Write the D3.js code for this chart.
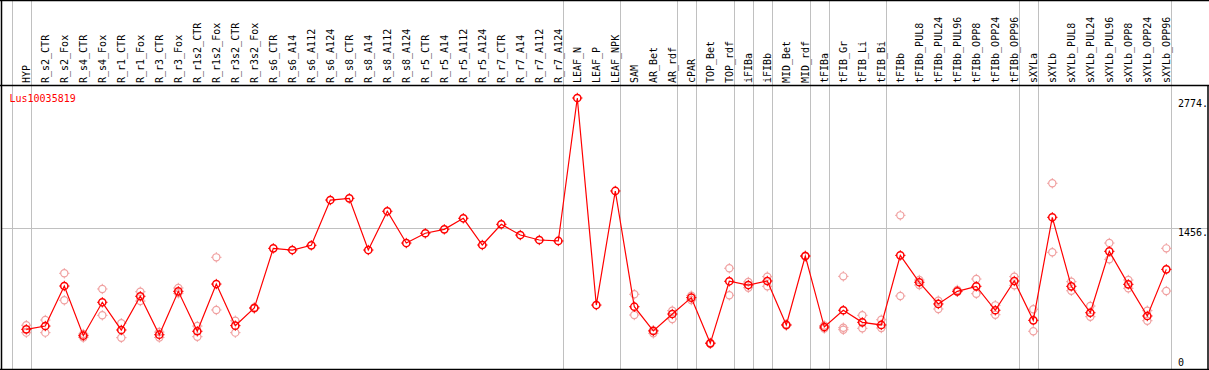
<!DOCTYPE html>
<html>
<head>
<meta charset="utf-8">
<script src="https://cdn.jsdelivr.net/npm/d3@7"></script>
<style>
html,body{margin:0;padding:0;background:#fff;}
svg{display:block;}
text{font-family:"DejaVu Sans Mono",monospace;font-size:10px;}
</style>
</head>
<body>
<svg id="chart" width="1209" height="370"></svg>
<script>
const categories = ["HYP","R_s2_CTR","R_s2_Fox","R_s4_CTR","R_s4_Fox","R_r1_CTR","R_r1_Fox","R_r3_CTR","R_r3_Fox","R_r1s2_CTR","R_r1s2_Fox","R_r3s2_CTR","R_r3s2_Fox","R_s6_CTR","R_s6_A14","R_s6_A112","R_s6_A124","R_s8_CTR","R_s8_A14","R_s8_A112","R_s8_A124","R_r5_CTR","R_r5_A14","R_r5_A112","R_r5_A124","R_r7_CTR","R_r7_A14","R_r7_A112","R_r7_A124","LEAF_N","LEAF_P","LEAF_NPK","SAM","AR_Bet","AR_rdf","cPAR","TOP_Bet","TOP_rdf","iFIBa","iFIBb","MID_Bet","MID_rdf","tFIBa","tFIB_Gr","tFIB_Li","tFIB_Bi","tFIBb","tFIBb_PUL8","tFIBb_PUL24","tFIBb_PUL96","tFIBb_OPP8","tFIBb_OPP24","tFIBb_OPP96","sXYLa","sXYLb","sXYLb_PUL8","sXYLb_PUL24","sXYLb_PUL96","sXYLb_OPP8","sXYLb_OPP24","sXYLb_OPP96"];

const meanValues = [428,461,867,363,702,421,763,373,813,408,887,465,644,
  1249,1232,1280,1739,1756,1232,1625,1303,1402,1442,1554,1283,1493,1384,1334,1324,
  2774,674,1831,
  657,411,583,749,286,915,877,918,472,1171,451,621,499,472,1178,
  905,685,813,864,621,918,519,1564,864,596,1219,884,563,1036];

const rep1Values = [469,522,996,380,837,489,809,400,847,461,1158,515,650,
  null,null,null,null,null,null,null,null,null,null,null,null,null,null,null,null,
  null,null,null,
  783,418,617,769,292,1047,908,962,478,1175,466,965,570,525,1584,
  928,718,827,938,671,962,631,1909,911,664,1303,928,617,1249];

const rep2Values = [394,394,722,345,570,343,715,345,793,353,624,394,638,
  null,null,null,null,null,null,null,null,null,null,null,null,null,null,null,null,
  null,null,null,
  573,387,532,725,282,773,850,864,466,1167,436,444,438,441,766,
  877,634,809,789,576,874,408,1209,819,556,1138,844,515,816];

const rep3Values = categories.map((c,i)=> i===43 ? 424 : null);

const yTickValues = [2774, 1456, 0];
const groupEnds = [-1,0,28,31,34,35,37,38,39,41,42,45,52,53,60];
const geneName = "Lus10035819";

const svg = d3.select("#chart");
const W = 1209, H = 370;
const headerY = 85, bottomY = 369, leftX = 1.5, rightX = 1208;

const x = d3.scaleLinear().domain([0, categories.length-1]).range([26.3, 26.3 + 19*(categories.length-1)]);
const y = d3.scaleLinear().domain([0, 2774]).range([371.5, 98]);

// group separator lines (full height)
svg.append("g").selectAll("line").data(groupEnds).join("line")
  .attr("x1", d => Math.round(x(d)+4.4)+0.5).attr("x2", d => Math.round(x(d)+4.4)+0.5)
  .attr("y1", 0).attr("y2", bottomY)
  .attr("stroke", "#c0c0c0").attr("stroke-width", 1);

// horizontal gridline at middle tick
svg.append("line")
  .attr("x1", leftX).attr("x2", rightX)
  .attr("y1", Math.round(y(1456))+0.5).attr("y2", Math.round(y(1456))+0.5)
  .attr("stroke", "#c0c0c0").attr("stroke-width", 1);

// borders
svg.append("line").attr("x1",0).attr("x2",W).attr("y1",0.5).attr("y2",0.5).attr("stroke","#000").attr("stroke-width",1.5);
svg.append("line").attr("x1",0).attr("x2",W).attr("y1",headerY+0.5).attr("y2",headerY+0.5).attr("stroke","#000").attr("stroke-width",1.5);
svg.append("line").attr("x1",0).attr("x2",W).attr("y1",bottomY+0.5).attr("y2",bottomY+0.5).attr("stroke","#000").attr("stroke-width",1.5);
svg.append("line").attr("x1",leftX).attr("x2",leftX).attr("y1",0).attr("y2",H).attr("stroke","#000").attr("stroke-width",1.5);
svg.append("line").attr("x1",rightX).attr("x2",rightX).attr("y1",headerY).attr("y2",H).attr("stroke","#000").attr("stroke-width",1.5);

// category labels (rotated)
svg.append("g").selectAll("text").data(categories).join("text")
  .attr("transform", (d,i) => `translate(${x(i)+4},${headerY-2}) rotate(-90)`)
  .attr("text-anchor", "start")
  .attr("fill", "#000")
  .text(d => d);

// gene name
svg.append("text").attr("x", 9.5).attr("y", 101.5).attr("fill", "#ff0000").text(geneName);

// right axis labels
const tickY = {2774: 110, 1456: 236, 0: 366};
svg.append("g").selectAll("text").data(yTickValues).join("text")
  .attr("x", d => d === 0 ? 1178 : 1178)
  .attr("y", d => d === 0 ? y(d) - 5.5 : y(d) + 8.5)
  .attr("fill", "#000")
  .text(d => d === 0 ? "0" : d + ".");

function marker(g, cx, cy, color, sw) {
  const r = 3.6;
  g.append("circle").attr("cx", cx).attr("cy", cy).attr("r", r)
    .attr("fill", "none").attr("stroke", color).attr("stroke-width", sw);
  const t = [[0,-1],[0,1],[-1,0],[1,0]];
  t.forEach(([dx,dy]) => {
    g.append("line")
      .attr("x1", cx + dx*r).attr("y1", cy + dy*r)
      .attr("x2", cx + dx*(r+1.6)).attr("y2", cy + dy*(r+1.6))
      .attr("stroke", color).attr("stroke-width", 1);
  });
}

// replicate markers
const repColor = "#f0a0a0";
const repG = svg.append("g");
[rep1Values, rep2Values, rep3Values].forEach(arr => {
  arr.forEach((v,i) => { if (v !== null) marker(repG, x(i), y(v), repColor, 1.2); });
});

// mean line
const line = d3.line().x((d,i) => x(i)).y(d => y(d));
svg.append("path").datum(meanValues).attr("d", line)
  .attr("fill", "none").attr("stroke", "#ff0000").attr("stroke-width", 1.2);

// mean markers
const meanG = svg.append("g");
meanValues.forEach((v,i) => marker(meanG, x(i), y(v), "#ff0000", 1.5));
</script>
</body>
</html>
